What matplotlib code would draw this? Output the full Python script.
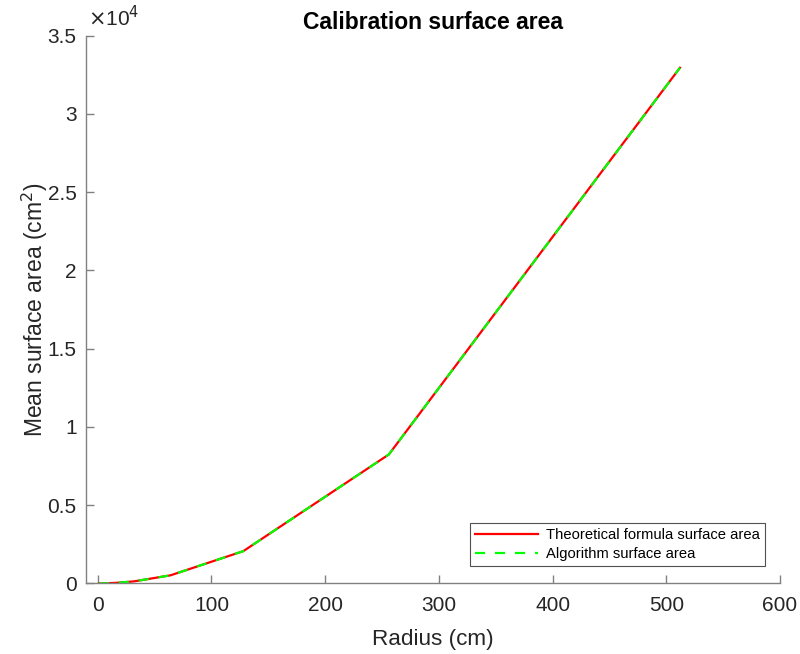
import matplotlib
matplotlib.use("Agg")
import matplotlib.pyplot as plt
from matplotlib.ticker import FuncFormatter

radius = [1, 2, 4, 8, 16, 32, 64, 128, 256, 512]
theoretical = [0.13, 0.5, 2.0, 8.0, 32.2, 128.7, 514.7, 2059, 8235, 32940]
algorithm = [0.13, 0.5, 2.0, 8.0, 32.2, 128.7, 514.7, 2059, 8235, 32940]
xticks = [0, 100, 200, 300, 400, 500, 600]
yticks = [0, 5000, 10000, 15000, 20000, 25000, 30000, 35000]

plt.rcParams['font.family'] = ['Liberation Sans', 'DejaVu Sans']
fig = plt.figure(figsize=(8, 6.54), dpi=100)
ax = fig.add_axes([0.108, 0.108, 0.867, 0.8377])

ax.plot(radius, theoretical, color='#FF0000', lw=1.6, label='Theoretical formula surface area')
ax.plot(radius, algorithm, color='#00FF00', lw=1.6, ls=(0, (4.5, 4.5)), label='Algorithm surface area')

ax.set_xlim(-10, 600)
ax.set_ylim(0, 35000)
ax.set_xticks(xticks)
ax.set_yticks(yticks)
ax.yaxis.set_major_formatter(FuncFormatter(lambda v, p: f"{v/1e4:g}"))

for s in ['top', 'right']:
    ax.spines[s].set_visible(False)
for s in ['left', 'bottom']:
    ax.spines[s].set_color('#808080')
    ax.spines[s].set_linewidth(1.0)
ax.tick_params(direction='in', length=6, color='#808080', labelsize=15,
               labelcolor='#262626', width=1.0, pad=7)
ax.tick_params(axis='x', pad=9)

ax.set_xlabel('Radius (cm)', fontsize=16.2, color='#262626', labelpad=10)
ax.set_ylabel('Mean surface area (cm$^2$)', fontsize=16.5, color='#262626', labelpad=-2)
ax.set_title('Calibration surface area', fontsize=16.5, fontweight='bold', pad=5)
ax.text(0.003, 1.01, r'$\times$10$^4$', transform=ax.transAxes, fontsize=15,
        color='#262626', ha='left', va='bottom')

leg = ax.legend(loc='lower right', bbox_to_anchor=(0.978, 0.032), fontsize=10.6,
                frameon=True, fancybox=False, edgecolor='#262626',
                handlelength=4.3, borderpad=0.35, labelspacing=0.3,
                handletextpad=0.5, borderaxespad=0)
leg.get_frame().set_linewidth(0.8)

fig.savefig('out.png', dpi=100)
